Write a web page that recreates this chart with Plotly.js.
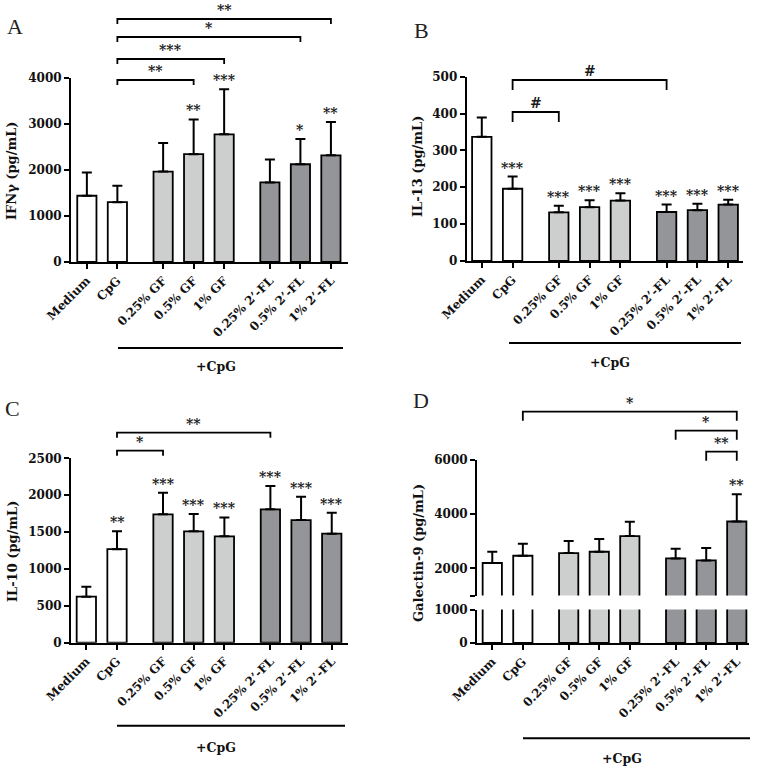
<!DOCTYPE html>
<html><head><meta charset="utf-8">
<script src="https://cdn.plot.ly/plotly-3.0.1.min.js"></script>
<style>body{margin:0;padding:0;background:#fff}#chart{width:758px;height:769px}</style>
</head><body><div id="chart"></div>
<script>
// ---------- DATA ----------
const categories = ["Medium","CpG","0.25% GF","0.5% GF","1% GF","0.25% 2\u2019-FL","0.5% 2\u2019-FL","1% 2\u2019-FL"];
const groups = ["control","control","GF","GF","GF","FL","FL","FL"];

const ifngMean = [1440,1300,1965,2345,2775,1730,2125,2320];
const ifngUpper = [1945,1660,2585,3100,3755,2230,2675,3045];
const ifngStars = ["","","","**","***","","*","**"];
const ifngBrackets = [[1,3,"**"],[1,4,"***"],[1,6,"*"],[1,7,"**"]];

const il13Mean = [337,196,132,146,164,133,138,153];
const il13Upper = [389,229,150,165,184,153,155,166];
const il13Stars = ["","***","***","***","***","***","***","***"];
const il13Brackets = [[1,2,"#"],[1,5,"#"]];

const il10Mean = [624,1268,1741,1510,1442,1808,1663,1478];
const il10Upper = [759,1510,2034,1745,1699,2124,1979,1762];
const il10Stars = ["","**","***","***","***","***","***","***"];
const il10Brackets = [[1,2,"*"],[1,5,"**"]];

const gal9Mean = [2200,2467,2567,2615,3193,2368,2294,3730];
const gal9Upper = [2615,2909,3008,3082,3719,2725,2751,4738];
const gal9Stars = ["","","","","","","","**"];
const gal9Brackets = [[6,7,"**"],[5,7,"*"],[1,7,"*"]];

// ---------- LAYOUT / STYLE ----------
const W = 758, H = 769;
const PX = x => x / W, PY = y => 1 - y / H;
const xPos = [0,1,2.5,3.5,4.5,6,7,8];
const groupColor = {control:"#ffffff", GF:"#cdcfce", FL:"#939598"};
const SERIF = "DejaVu Serif";
const tickFont = {family:SERIF, size:12, color:"#111", weight:"bold"};

const panels = [
  {letter:"A", title:"IFN\u03b3 (pg/mL)", mean:ifngMean, upper:ifngUpper, stars:ifngStars, brackets:ifngBrackets,
   xa:"x", ya:"y", xd:[71,348], xr:[-0.52,8.56], yd:[262,78], yr:[0,4000], tv:[0,1000,2000,3000,4000],
   bY:[80,59,37,19], drop:5, letterPos:[15,27], titlePos:[11,171], cpg:[118,343,348,366]},
  {letter:"B", title:"IL-13 (pg/mL)", mean:il13Mean, upper:il13Upper, stars:il13Stars, brackets:il13Brackets,
   xa:"x2", ya:"y2", xd:[466.7,743], xr:[-0.49,8.48], yd:[261,76.7], yr:[0,500], tv:[0,100,200,300,400,500],
   bY:[112,80], drop:10, letterPos:[421,30], titlePos:[418,167], cpg:[509,741,343,362]},
  {letter:"C", title:"IL-10 (pg/mL)", mean:il10Mean, upper:il10Upper, stars:il10Stars, brackets:il10Brackets,
   xa:"x3", ya:"y3", xd:[71,348], xr:[-0.5,8.53], yd:[642.7,458.3], yr:[0,2500], tv:[0,500,1000,1500,2000,2500],
   bY:[450.7,432.7], drop:5, letterPos:[12,408], titlePos:[12,552], cpg:[117,345,725.7,747.7]},
  {letter:"D", title:"Galectin-9 (pg/mL)", mean:gal9Mean, upper:gal9Upper, stars:gal9Stars, brackets:gal9Brackets,
   xa:"x4", ya:"y5", lowYa:"y4", xd:[477,749], xr:[-0.5,8.4], yd:[595.5,460], yr:[1000,6000], tv:[1000,2000,4000,6000],
   tt:["","2000","4000","6000"], lowYd:[643,609.5], lowYr:[0,1000], lowTv:[0,1000],
   bY:[451.7,430.7,411.7], drop:9, letterPos:[421,400], titlePos:[418,553], cpg:[523,750,738.3,758]}
];

const traces = [], shapes = [], annotations = [];
const layout = {
  width: W, height: H, margin:{l:0,r:0,t:0,b:0},
  paper_bgcolor:"#fff", plot_bgcolor:"rgba(0,0,0,0)", showlegend:false,
  font:{family:SERIF, color:"#111"}
};

function axName(id){ return id.replace(/^x/,"xaxis").replace(/^y/,"yaxis"); }
function yAxisDef(yd, yr, tv, tt, anchor){
  const d = {domain:[PY(yd[0]),PY(yd[1])], range:yr, anchor:anchor, tickvals:tv,
    showline:true, linecolor:"#000", linewidth:2, ticks:"outside", ticklen:5, tickwidth:2, tickcolor:"#000",
    showgrid:false, zeroline:false, tickfont:tickFont, fixedrange:true};
  if (tt) d.ticktext = tt;
  return d;
}

panels.forEach(p => {
  const colors = groups.map(g => groupColor[g]);
  const base = {type:"bar", x:xPos, width:0.63, marker:{color:colors, line:{color:"#000", width:1.8}},
    hoverinfo:"skip"};
  const errDiff = p.upper.map((u,i) => u - p.mean[i]);
  const yAnchor = p.lowYa || p.ya;
  layout[axName(p.xa)] = {domain:[PX(p.xd[0]),PX(p.xd[1])], range:p.xr, anchor:yAnchor,
    tickvals:xPos, ticktext:categories, tickangle:-45,
    showline:true, linecolor:"#000", linewidth:2, ticks:"outside", ticklen:5, tickwidth:2, tickcolor:"#000",
    showgrid:false, zeroline:false, tickfont:tickFont, fixedrange:true};
  layout[axName(p.ya)] = yAxisDef(p.yd, p.yr, p.tv, p.tt, p.xa);
  traces.push(Object.assign({}, base, {y:p.mean, xaxis:p.xa, yaxis:p.ya,
    error_y:{type:"data", symmetric:false, array:errDiff, arrayminus:p.mean.map(()=>0),
      color:"#000", thickness:2, width:5}}));
  if (p.lowYa){
    layout[axName(p.lowYa)] = yAxisDef(p.lowYd, p.lowYr, p.lowTv, null, p.xa);
    traces.push(Object.assign({}, base, {y:p.mean, xaxis:p.xa, yaxis:p.lowYa}));
  }
  p.stars.forEach((s,i) => {
    if (!s) return;
    annotations.push({x:xPos[i], y:p.upper[i], xref:p.xa, yref:p.ya, text:s, showarrow:false,
      yanchor:"bottom", yshift:-1, font:{family:SERIF, size:14, color:"#1a1a1a", weight:"bold"}});
  });
  p.brackets.forEach((b,k) => {
    const x0 = xPos[b[0]], x1 = xPos[b[1]];
    const yTop = PY(p.bY[k]), yBot = PY(p.bY[k] + p.drop);
    shapes.push({type:"path", xref:p.xa, yref:"paper",
      path:`M ${x0},${yBot} L ${x0},${yTop} L ${x1},${yTop} L ${x1},${yBot}`,
      line:{color:"#000", width:1.8}});
    annotations.push({x:(x0+x1)/2, y:yTop, xref:p.xa, yref:"paper", text:b[2], showarrow:false,
      yanchor:"bottom", yshift:-1, font:{family:SERIF, size:14, color:"#1a1a1a", weight:"bold"}});
  });
  annotations.push({x:PX(p.letterPos[0]), y:PY(p.letterPos[1]), xref:"paper", yref:"paper", text:p.letter,
    showarrow:false, xanchor:"center", yanchor:"middle", font:{family:"Liberation Serif", size:22, color:"#222"}});
  annotations.push({x:PX(p.titlePos[0]), y:PY(p.titlePos[1]), xref:"paper", yref:"paper", text:p.title,
    textangle:-90, showarrow:false, xanchor:"center", yanchor:"middle",
    font:{family:SERIF, size:13, color:"#111", weight:"bold"}});
  shapes.push({type:"line", xref:"paper", yref:"paper", x0:PX(p.cpg[0]), x1:PX(p.cpg[1]),
    y0:PY(p.cpg[2]), y1:PY(p.cpg[2]), line:{color:"#000", width:2}});
  annotations.push({x:PX((p.cpg[0]+p.cpg[1])/2 - 15), y:PY(p.cpg[3]), xref:"paper", yref:"paper", text:"+CpG",
    showarrow:false, xanchor:"center", yanchor:"middle", font:{family:SERIF, size:12.5, color:"#111", weight:"bold"}});
});

layout.shapes = shapes;
layout.annotations = annotations;
Plotly.newPlot("chart", traces, layout, {staticPlot:true, displayModeBar:false});
</script>
</body></html>
